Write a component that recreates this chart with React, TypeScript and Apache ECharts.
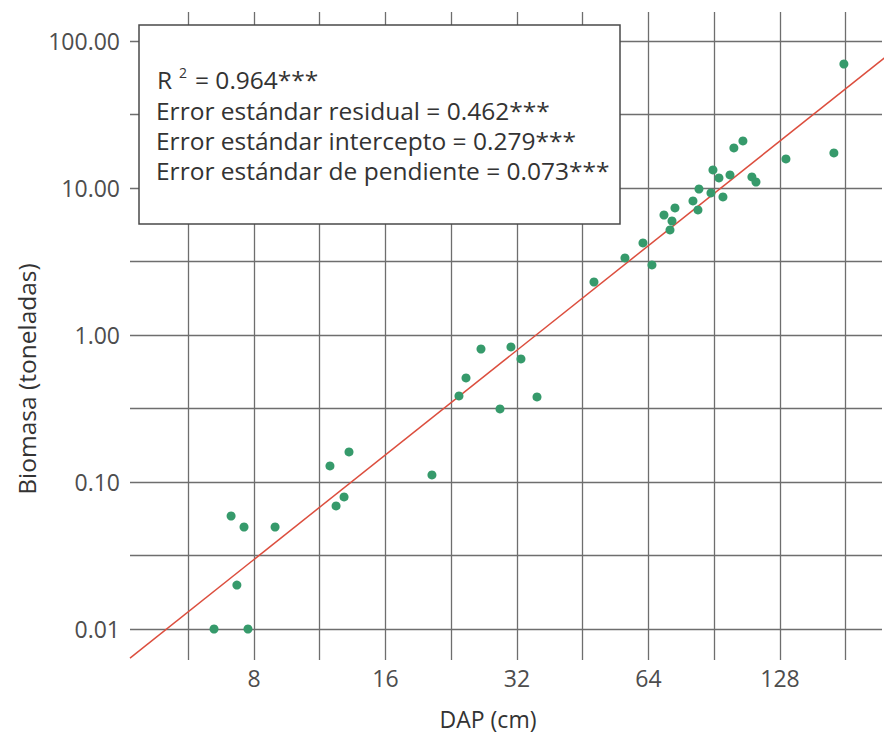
import React, { useEffect, useRef } from 'react';
import * as echarts from 'echarts';

// DAP (cm) and biomass (t) of each tree
const dapCm = [
  6.48, 7.75, 7.31, 7.09, 7.59, 8.94, 11.94, 12.33, 12.86, 13.2,
  20.44, 23.57, 24.46, 26.47, 29.26, 31.0, 32.68, 35.56, 48.02, 56.54,
  62.17, 65.19, 69.45, 71.69, 72.45, 73.6, 80.92, 83.08, 83.52, 89.91,
  88.97, 92.8, 94.78, 98.36, 100.4, 105.3, 110.4, 112.8, 132.1, 170.1,
  179.3,
];
const biomasaT = [
  0.01, 0.01, 0.0199, 0.0587, 0.0494, 0.0494, 0.1285, 0.0687, 0.0791, 0.16,
  0.1116, 0.3846, 0.51, 0.803, 0.3138, 0.829, 0.687, 0.379, 2.293, 3.34,
  4.23, 2.994, 6.55, 5.18, 5.96, 7.31, 8.16, 7.09, 9.84, 13.26,
  9.25, 11.7, 8.69, 12.26, 18.71, 20.88, 11.88, 10.98, 15.75, 17.3,
  69.7,
];

// fitted log10(B) = slope * log10(DAP) + intercept
const fitSlope = 2.364;
const fitIntercept = -3.662;

// tick labels
const xTickLabels = [8, 16, 32, 64, 128];
const yTickLabels = [0.01, 0.1, 1, 10, 100];

const statLines = [
  'Error estándar residual = 0.462***',
  'Error estándar intercepto = 0.279***',
  'Error estándar de pendiente = 0.073***',
];
const r2Text = '= 0.964***';

const X_MIN = 2.057; // log2 DAP
const X_MAX = 7.776;
const Y_MIN = -2.211; // log10 biomass
const Y_MAX = 2.197;

const FONT = '"Open Sans", Lato, sans-serif';

export default function App() {
  const ref = useRef<HTMLDivElement>(null);

  useEffect(() => {
    if (!ref.current) return;
    const chart = echarts.init(ref.current, undefined, { renderer: 'svg' });

    const xLabelLog = xTickLabels.map((v) => Math.log2(v));
    const xGridLog: number[] = [];
    xLabelLog.forEach((v) => {
      xGridLog.push(v - 0.5, v);
    });
    xGridLog.push(xLabelLog[xLabelLog.length - 1] + 0.5);

    const yLabelLog = yTickLabels.map((v) => Math.log10(v));
    const yGridLog: number[] = [];
    yLabelLog.forEach((v, i) => {
      if (i > 0) yGridLog.push(v - 0.5);
      yGridLog.push(v);
    });

    const points = dapCm.map((d, i) => [Math.log2(d), Math.log10(biomasaT[i])]);
    const fitAt = (lx: number) => fitSlope * lx * Math.log10(2) + fitIntercept;
    const lineEnds = [X_MIN, 7.82];
    const lineData = lineEnds.map((lx) => [lx, fitAt(lx)]);

    const gridLine = { show: true, lineStyle: { color: '#6e6e6e', width: 1.3 } };
    const labelStyle = { fontSize: 23, fontFamily: FONT, color: '#4d4d4d' };
    const textStyle = {
      fontSize: 24.5,
      lineHeight: 24,
      fontFamily: FONT,
      fill: '#333333',
      verticalAlign: 'middle',
    };

    chart.setOption({
      animation: false,
      grid: { left: 130, right: 7, top: 12, bottom: 74, containLabel: false },
      xAxis: {
        type: 'value',
        min: X_MIN,
        max: X_MAX,
        axisLine: { show: false },
        axisTick: { show: false, customValues: xGridLog },
        axisLabel: {
          ...labelStyle,
          customValues: xLabelLog,
          margin: 6,
          formatter: (v: number) => String(Math.round(Math.pow(2, v))),
        },
        splitLine: gridLine,
      },
      yAxis: {
        type: 'value',
        min: Y_MIN,
        max: Y_MAX,
        axisLine: { show: false },
        axisTick: { show: false, customValues: yGridLog },
        axisLabel: {
          ...labelStyle,
          customValues: yLabelLog,
          margin: 10,
          formatter: (v: number) => Math.pow(10, v).toFixed(2),
        },
        splitLine: gridLine,
      },
      series: [
        {
          type: 'line',
          data: lineData,
          symbol: 'none',
          clip: false,
          silent: true,
          lineStyle: { color: '#dc4e3e', width: 1.5 },
          z: 2,
        },
        {
          type: 'scatter',
          data: points,
          symbolSize: 9,
          itemStyle: { color: '#369a6b', opacity: 1 },
          z: 3,
        },
      ],
      graphic: [
        {
          type: 'rect',
          shape: { x: 139, y: 25, width: 481, height: 199 },
          style: { fill: '#ffffff', stroke: '#4a4a4a', lineWidth: 1.5 },
          z: 100,
        },
        {
          type: 'text',
          x: 157,
          y: 79,
          z: 101,
          style: { ...textStyle, text: 'R' },
        },
        {
          type: 'text',
          x: 179,
          y: 72,
          z: 101,
          style: { ...textStyle, text: '2', fontSize: 14, lineHeight: 14 },
        },
        {
          type: 'text',
          x: 195,
          y: 79,
          z: 101,
          style: { ...textStyle, text: r2Text },
        },
        {
          type: 'text',
          x: 156,
          y: 95,
          z: 101,
          style: { ...textStyle, text: statLines.join('\n'), lineHeight: 30, verticalAlign: 'top' },
        },
        {
          type: 'text',
          x: 488,
          y: 719,
          style: { ...textStyle, text: 'DAP (cm)', fontSize: 23, lineHeight: 22, align: 'center' },
        },
        {
          type: 'text',
          x: 26,
          y: 379,
          rotation: Math.PI / 2,
          style: { ...textStyle, text: 'Biomasa (toneladas)', fontSize: 24.5, align: 'center' },
        },
      ],
    });

    return () => chart.dispose();
  }, []);

  return (
    <div
      ref={ref}
      style={{ position: 'absolute', left: 0, top: 0, width: 889, height: 734 }}
    />
  );
}
